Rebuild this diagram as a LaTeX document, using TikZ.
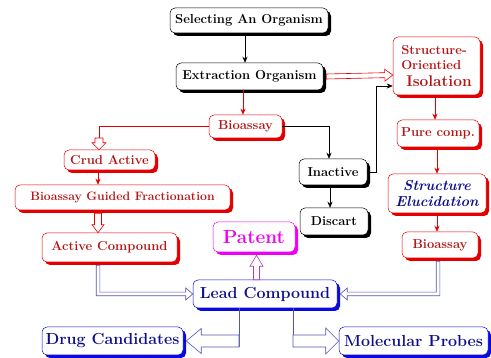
\documentclass[tikz,border=0pt]{standalone}
\usetikzlibrary{arrows.meta,shadows,calc}

\definecolor{boxred}{RGB}{228,0,0}
\definecolor{txtred}{RGB}{180,20,20}
\definecolor{boxblue}{RGB}{10,10,220}
\definecolor{txtblue}{RGB}{15,15,140}
\definecolor{linkblue}{RGB}{85,85,180}
\definecolor{boxpink}{RGB}{240,0,240}
\definecolor{linkpink}{RGB}{175,60,180}

\begin{document}
\begin{tikzpicture}[x=1pt, y=-1pt, font=\bfseries\fontsize{13}{15}\selectfont]
    \tikzset{
        sz/.style 2 args={minimum width=#1pt, minimum height=#2pt},
        box/.style={draw, rounded corners=5pt, fill=white, inner sep=0pt, align=center, line width=0.5pt},
        blackbox/.style={box, draw=black, text=black,
            drop shadow={fill=black, opacity=1, shadow xshift=3pt, shadow yshift=-3pt}},
        redbox/.style={box, draw=boxred, text=txtred,
            drop shadow={fill=boxred, opacity=1, shadow xshift=3pt, shadow yshift=-3pt}},
        bluebox/.style={box, draw=boxblue, text=txtblue, font=\bfseries\fontsize{16}{18}\selectfont,
            drop shadow={fill=boxblue, opacity=1, shadow xshift=3pt, shadow yshift=-3pt}},
        pinkbox/.style={box, draw=boxpink, text=boxpink, font=\bfseries\fontsize{19}{21}\selectfont,
            drop shadow={fill=boxpink, opacity=1, shadow xshift=3pt, shadow yshift=-3pt}},
        link/.style={line width=0.6pt},
        tip/.style={link, -{Stealth[length=6pt, width=5pt]}},
        % outline arrow: shaft half width, head length, head half width
        block/.style n args={3}{link, fill=white, to path={
            let \p1=(\tikztostart), \p2=(\tikztotarget),
                \n1={atan2(\y2-\y1,\x2-\x1)}, \n2={veclen(\x2-\x1,\y2-\y1)} in
            {[shift={(\p1)}, rotate=\n1]
             (0,#1) -- ({\n2-#2},#1) -- ({\n2-#2},#3) -- (\n2,0)
             -- ({\n2-#2},-#3) -- ({\n2-#2},-#1) -- (0,-#1) -- cycle}}},
        % same, going down first and then across
        lblock/.style n args={3}{link, fill=white, to path={
            let \p1=(\tikztostart), \p2=(\tikztotarget),
                \n1={sign(\x2-\x1)}, \n2={sign(\y2-\y1)} in
            ({\x1-\n1*#1pt},{\y1}) -- ({\x1-\n1*#1pt},{\y2+\n2*#1pt})
            -- ({\x2-\n1*#2pt},{\y2+\n2*#1pt}) -- ({\x2-\n1*#2pt},{\y2+\n2*#3pt})
            -- (\p2) -- ({\x2-\n1*#2pt},{\y2-\n2*#3pt}) -- ({\x2-\n1*#2pt},{\y2-\n2*#1pt})
            -- ({\x1+\n1*#1pt},{\y2-\n2*#1pt}) -- ({\x1+\n1*#1pt},{\y1}) -- cycle}},
    }
    \useasboundingbox (0,0) rectangle (491,358);

    % left column
    \node[blackbox, sz={158}{25}] (sel) at (249,20.5) {Selecting An Organism};
    \node[blackbox, sz={147}{27}] (ext) at (249.5,76.5) {Extraction Organism};
    \node[redbox, sz={73}{23}] (bio1) at (245.5,126.5) {Bioassay};
    \node[redbox, sz={91}{20}] (crud) at (109.5,160) {Crud Active};
    \node[redbox, sz={215}{25}, font=\bfseries\fontsize{12.2}{14}\selectfont] (bgf) at (122.5,197.5)
        {Bioassay Guided Fractionation};
    \node[redbox, sz={135}{29}] (act) at (109.5,247.5) {Active Compound};

    % middle
    \node[blackbox, sz={68}{26}] (inact) at (333,172) {Inactive};
    \node[blackbox, sz={68}{27}] (disc) at (334,221.5) {Discart};
    \node[pinkbox, sz={82}{30}] (pat) at (254,237) {Patent};
    \node[bluebox, sz={144}{28}] (lead) at (265,294) {Lead Compound};
    \node[bluebox, sz={141}{28}] (drug) at (112.5,341) {Drug Candidates};
    \node[bluebox, sz={149}{28}] (probe) at (413.5,341) {Molecular Probes};

    % right column
    \node[redbox, sz={87}{58}, align=left, font=\bfseries\fontsize{13}{15}\selectfont] (soi) at (436.5,66)
        {Structure-\\Orientied\\[1.5pt]\hspace*{5pt}{\fontsize{15.5}{17}\selectfont Isolation}};
    \node[redbox, sz={82}{27}] (pure) at (438,133.5) {Pure comp.};
    \node[redbox, sz={98}{39}, text=txtblue, font=\bfseries\itshape\fontsize{14.5}{16}\selectfont] (elu)
        at (437,193.5) {Structure\\Elucidation};
    \node[redbox, sz={76}{26}] (bio2) at (440,245) {Bioassay};

    \coordinate (cj) at (99,138);
    \coordinate (pp) at (256.5,0);
    \coordinate (dj) at (239,341);
    \coordinate (pj) at (293,341);

    % black links
    \draw[tip] ([xshift=-4pt]sel.south) -- ([xshift=-4.5pt]ext.north);
    \draw[tip] (bio1.east) -| ([xshift=-4pt]inact.north);
    \draw[tip] ([xshift=-3pt]inact.south) -- ([xshift=-4pt]disc.north);
    \draw[tip] (inact.east) -- ++(9,0) |- ([yshift=-20pt]soi.west);

    % red links
    \draw[tip, boxred] ([xshift=-6.5pt]ext.south) -- ([xshift=-2.5pt]bio1.north);
    \draw[block={2.5}{8}{6}, draw=boxred] ([xshift=3pt]ext.east) to ([yshift=1.5pt]soi.west |- ext.east);
    \draw[link, boxred] (bio1.west) -| (cj);
    \draw[block={4}{7}{7}, draw=boxred] (cj) to (cj |- crud.north);
    \draw[tip, boxred] ([xshift=-11.5pt]crud.south) -- ([xshift=-11.5pt]crud.south |- bgf.north);
    \draw[block={3.5}{8}{6}, draw=boxred] ([xshift=-24.5pt, yshift=-3pt]bgf.south)
        to ([xshift=-24.5pt]bgf.south |- act.north);
    \draw[tip, boxred] ([xshift=-1.5pt]soi.south) -- ([xshift=-3pt]pure.north);
    \draw[tip, boxred] ([xshift=-1pt]pure.south) -- (elu.north);
    \draw[tip, boxred] (elu.south) -- ([xshift=-3pt]bio2.north);

    % blue links
    \draw[lblock={1.8}{7}{6}, draw=linkblue] ([xshift=-11.5pt, yshift=-3pt]act.south) to (lead.west);
    \draw[lblock={1.8}{7}{6}, draw=linkblue] ([xshift=-2pt, yshift=-3pt]bio2.south) to ([xshift=3pt]lead.east);
    \draw[block={3}{11}{6.5}, draw=linkpink] (lead.north -| pp) to ([yshift=-3pt]pat.south -| pp);
    \draw[link, linkblue] (lead.south -| dj) -- ([yshift=-6pt]dj);
    \draw[block={6}{15}{12.5}, draw=linkblue] (dj) to ([xshift=3pt]drug.east);
    \draw[link, linkblue] (lead.south -| pj) -- ([yshift=-6pt]pj);
    \draw[block={6}{13}{13}, draw=linkblue] (pj) to (probe.west);
\end{tikzpicture}
\end{document}
